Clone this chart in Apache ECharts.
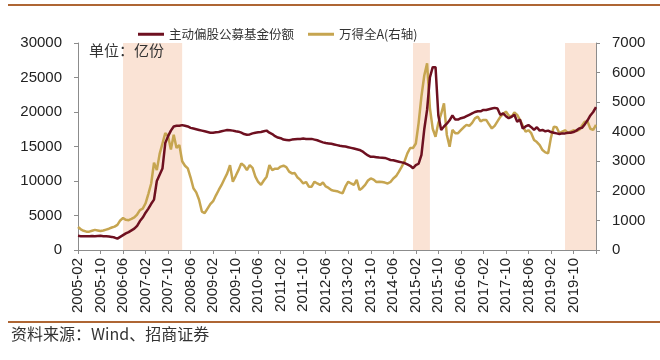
<!DOCTYPE html>
<html><head><meta charset="utf-8">
<script src="https://cdn.jsdelivr.net/npm/echarts@6/dist/echarts.min.js"></script>
<style>html,body{margin:0;padding:0;background:#fff}#c{width:660px;height:360px}</style>
</head><body><div id="c"></div>
<script>
// Monthly categories 2005-02 .. 2020-06
const startYear = 2005, startMonth = 2, nMonths = 185;
const months = [];
for (let i = 0; i < nMonths; i++) {
  const m = startMonth - 1 + i;
  const y = startYear + Math.floor(m / 12);
  const mm = (m % 12) + 1;
  months.push(y + '-' + (mm < 10 ? '0' + mm : mm));
}
const seriesNames = ['主动偏股公募基金份额', '万得全A(右轴)'];
// 主动偏股公募基金份额 (亿份), left axis
const fundShares = [
  2050, 2000, 2000, 1980, 2000, 2020, 2000, 2030, 2050, 2000, 1980,
  1950, 1900, 1800, 1650, 1900, 2150, 2400, 2600, 2850, 3100, 3500, 4200,
  4700, 5400, 6000, 6700, 7300, 10000, 10900, 11800, 15500, 16500, 17300, 17900,
  18000, 18000, 18100, 18000, 17900, 17700, 17600, 17500, 17400, 17300, 17200, 17100,
  17000, 17000, 17050, 17100, 17200, 17300, 17400, 17350, 17300, 17200, 17150, 17000,
  16800, 16700, 16750, 16900, 17000, 17050, 17100, 17200, 17300, 17000, 16800, 16500,
  16300, 16200, 16000, 15950, 15900, 16000, 16050, 16100, 16100, 16150, 16100, 16100,
  16100, 16000, 15900, 15750, 15600, 15500, 15450, 15400, 15300, 15200, 15100, 15050,
  15000, 14900, 14800, 14700, 14600, 14500, 14300, 14000, 13700, 13500, 13500, 13450,
  13400, 13380, 13350, 13200, 13050, 13000, 12900, 12800, 12700, 12600, 12400, 12200,
  11850, 12300, 12500, 13800, 17500, 20300, 25000, 26500, 26500, 19500, 17400, 17900,
  18300, 18800, 19500, 18900, 18900, 19100, 19200, 19400, 19600, 19800, 20000, 20100,
  20100, 20300, 20300, 20400, 20500, 20600, 20500, 19600, 19800, 19400, 19100, 19300,
  19600, 18600, 18900, 17600, 17900, 18100, 17800, 17400, 17800, 17300, 17400, 17200,
  17300, 17100, 17000, 16900, 16800, 16900, 16900, 17000, 17000, 17100, 17300, 17600,
  17700, 18200, 18800, 19500, 20000, 20700
];
// 万得全A, right axis
const windA = [
  780, 700, 650, 620, 620, 650, 680, 660, 640, 660, 690,
  720, 760, 790, 850, 1000, 1080, 1020, 1010, 1050, 1100, 1200, 1350,
  1400, 1580, 1900, 2250, 2950, 2700, 3250, 3600, 3950, 3850, 3400, 3900,
  3450, 3550, 3000, 2850, 2760, 2450, 2090, 1950, 1700, 1300, 1250, 1400,
  1550, 1650, 1850, 2030, 2200, 2400, 2590, 2870, 2310, 2500, 2700, 2930,
  2850, 2700, 2870, 2780, 2480, 2300, 2200, 2350, 2480, 2870, 2700, 2750,
  2750, 2820, 2850, 2800, 2650, 2590, 2600, 2450, 2370, 2250, 2300, 2140,
  2140, 2310, 2250, 2200, 2280, 2150, 2100, 2030, 2000, 1990, 1950, 1920,
  2150, 2310, 2250, 2200, 2370, 2030, 2100, 2200, 2350, 2420, 2380, 2300,
  2310, 2300, 2280, 2250, 2300, 2420, 2500, 2650, 2820, 3000, 3270, 3450,
  3450, 3600, 4300, 5200, 5900, 6310, 4800, 4100, 3830, 4300, 4600, 4960,
  3900, 3490, 4060, 3950, 3950, 4050, 4150, 4230, 4200, 4300, 4450, 4510,
  4350, 4400, 4400, 4250, 4110, 4200, 4350, 4500, 4600, 4680, 4550, 4500,
  4650, 4570, 4400, 4200, 4000, 4050, 3950, 3720, 3650, 3550, 3380, 3300,
  3270, 3800, 4170, 4150, 3950, 4000, 4050, 3950, 4000, 4050, 4020, 4060,
  4200, 4340, 4340, 4100, 4060, 4230
];
// shaded periods (category labels)
const shadedPeriods = [['2006-06', '2008-03'], ['2015-01', '2015-07'], ['2019-07', '2020-06']];
const leftTicks = {min: 0, max: 30000, interval: 5000};
const rightTicks = {min: 0, max: 7000, interval: 1000};

const chart = echarts.init(document.getElementById('c'));
const axisFont = {fontFamily: 'Liberation Sans, Arial, sans-serif', fontSize: 15, color: '#222'};
const plain = (v) => String(v);
chart.setOption({
  animation: false,
  grid: {left: 78, right: 64, top: 43, bottom: 110},
  legend: {
    left: 133, top: 23, itemGap: 14, itemWidth: 26, itemHeight: 3,
    icon: 'rect',
    textStyle: {fontFamily: 'Noto Sans CJK SC', fontSize: 12.5, color: '#333'},
    data: seriesNames
  },
  xAxis: {
    type: 'category', data: months, boundaryGap: false,
    axisLine: {lineStyle: {color: '#8c8c8c', width: 1}},
    axisTick: {show: true, length: 4, interval: (i) => i % 8 === 0, lineStyle: {color: '#8c8c8c'}},
    axisLabel: Object.assign({rotate: 90, margin: 8, interval: (i) => i % 8 === 0 && i < 184}, axisFont)
  },
  yAxis: [
    Object.assign({type: 'value', splitLine: {show: false},
      axisLine: {show: true, lineStyle: {color: '#8c8c8c'}},
      axisTick: {show: true, length: 4, lineStyle: {color: '#8c8c8c'}},
      axisLabel: Object.assign({margin: 16, formatter: plain}, axisFont)}, leftTicks),
    Object.assign({type: 'value', splitLine: {show: false},
      axisLine: {show: true, lineStyle: {color: '#8c8c8c'}},
      axisTick: {show: true, length: 4, lineStyle: {color: '#8c8c8c'}},
      axisLabel: Object.assign({margin: 16, formatter: plain}, axisFont)}, rightTicks)
  ],
  series: [
    {
      name: seriesNames[0], type: 'line', yAxisIndex: 0, data: fundShares,
      symbol: 'none', z: 3,
      lineStyle: {color: '#6E1020', width: 2.5}, itemStyle: {color: '#6E1020'},
      markArea: {
        silent: true,
        itemStyle: {color: '#FAE3D5'},
        data: shadedPeriods.map(p => [{xAxis: p[0]}, {xAxis: p[1]}])
      }
    },
    {
      name: seriesNames[1], type: 'line', yAxisIndex: 1, data: windA,
      symbol: 'none', z: 2,
      lineStyle: {color: '#C6A550', width: 2.5}, itemStyle: {color: '#C6A550'}
    }
  ],
  graphic: [
    {type: 'rect', z: 100, shape: {x: 8, y: 4, width: 652, height: 2}, style: {fill: '#AE6634'}},
    {type: 'rect', z: 100, shape: {x: 8, y: 321, width: 652, height: 2}, style: {fill: '#AE6634'}},
    {type: 'text', z: 100, left: 89, top: 43, style: {text: '单位：亿份', font: '15px "Noto Sans CJK SC"', fill: '#333'}},
    {type: 'text', z: 100, left: 11, top: 326, style: {text: '资料来源：Wind、招商证券', font: '16px "Noto Sans CJK SC"', fill: '#333'}}
  ]
});
</script></body></html>
